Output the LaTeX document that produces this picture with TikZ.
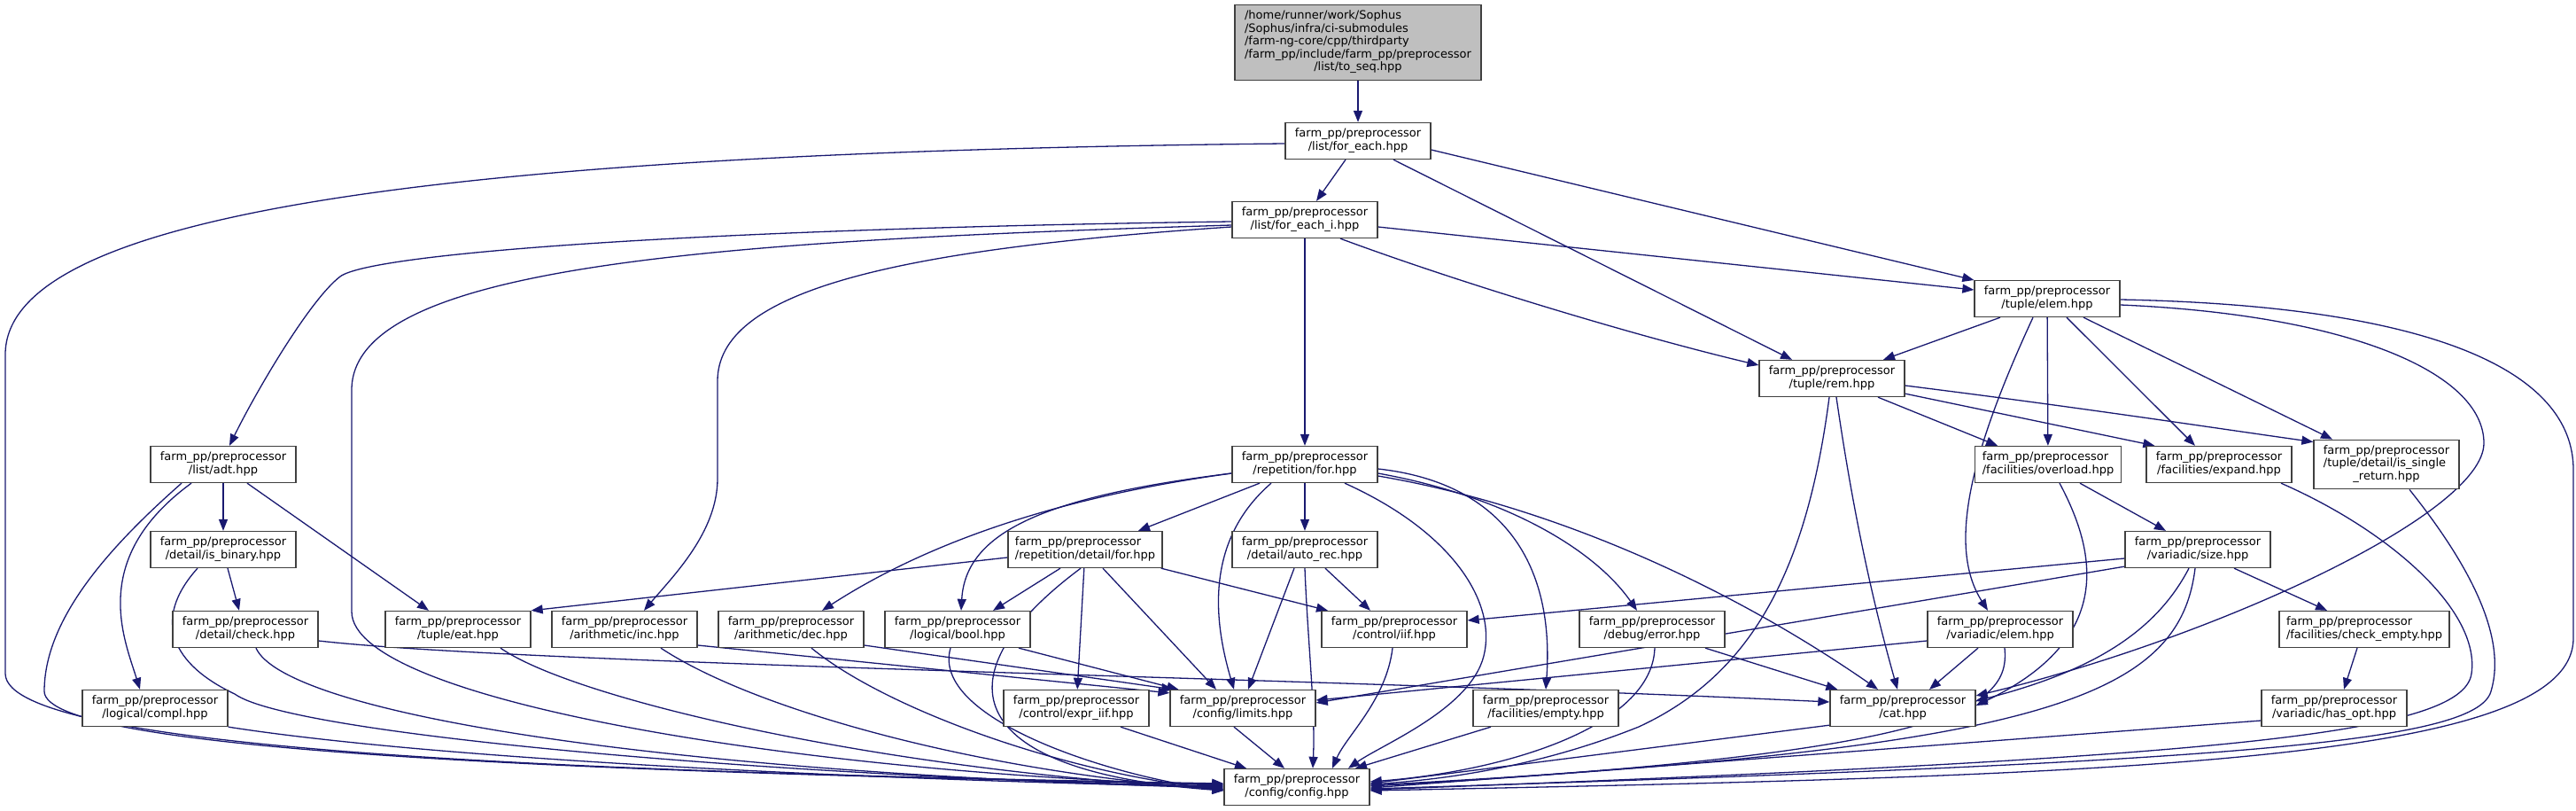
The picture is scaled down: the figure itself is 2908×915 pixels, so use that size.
\documentclass[tikz,border=0pt]{standalone}
\usepackage{fontspec}
\setmainfont{DejaVu Sans}
\usepackage{tikz}
\usetikzlibrary{arrows.meta, positioning, backgrounds}
\usepackage{xcolor}
\definecolor{edgeblue}{HTML}{191970}
\definecolor{boxgray}{HTML}{404040}
\definecolor{rootfill}{HTML}{BFBFBF}
\newcommand{\fpp}[1]{\begin{tabular}{@{}l@{}}farm\_pp/preprocessor\\\multicolumn{1}{@{}c@{}}{#1}\end{tabular}}

\begin{document}
\begin{tikzpicture}[x=1pt, y=-1pt,
  hfile/.style={rectangle, draw=boxgray, line width=1.3pt, fill=white, minimum width=164pt,
    minimum height=41pt, inner xsep=8pt, inner ysep=6pt, font=\fontsize{13}{14.5}\selectfont},
  dep/.style={-{Triangle[length=13pt, width=10pt]}, draw=edgeblue, line width=1.3pt},
]
  \useasboundingbox (0,0) rectangle (2908,915);

  \node[hfile, fill=rootfill, minimum width=278pt] (root) at (1533,48) {\begin{tabular}{@{}l@{}}/home/runner/work/Sophus\\/Sophus/infra/ci-submodules\\/farm-ng-core/cpp/thirdparty\\/farm\_pp/include/farm\_pp/preprocessor\\\multicolumn{1}{@{}c@{}}{/list/to\_seq.hpp}\end{tabular}};
  \node[hfile] (fe) at (1533,159) {\fpp{/list/for\_each.hpp}};
  \node[hfile] (fei) at (1473,248) {\fpp{/list/for\_each\_i.hpp}};
  \node[hfile] (telem) at (2311,337) {\fpp{/tuple/elem.hpp}};
  \node[hfile] (trem) at (2068,427) {\fpp{/tuple/rem.hpp}};
  \node[hfile] (adt) at (252,524) {\fpp{/list/adt.hpp}};
  \node[hfile] (rfor) at (1473,524) {\fpp{/repetition/for.hpp}};
  \node[hfile] (ovl) at (2312,524) {\fpp{/facilities/overload.hpp}};
  \node[hfile] (expd) at (2505,524) {\fpp{/facilities/expand.hpp}};
  \node[hfile] (isr) at (2694,524) {\begin{tabular}{@{}l@{}}farm\_pp/preprocessor\\/tuple/detail/is\_single\\\multicolumn{1}{@{}c@{}}{\_return.hpp}\end{tabular}};
  \node[hfile] (isb) at (252,620) {\fpp{/detail/is\_binary.hpp}};
  \node[hfile] (rdfor) at (1225,620) {\fpp{/repetition/detail/for.hpp}};
  \node[hfile] (arec) at (1473,620) {\fpp{/detail/auto\_rec.hpp}};
  \node[hfile] (vsize) at (2481,620) {\fpp{/variadic/size.hpp}};
  \node[hfile] (chk) at (277,710) {\fpp{/detail/check.hpp}};
  \node[hfile] (eat) at (517,710) {\fpp{/tuple/eat.hpp}};
  \node[hfile] (ainc) at (705,710) {\fpp{/arithmetic/inc.hpp}};
  \node[hfile] (adec) at (893,710) {\fpp{/arithmetic/dec.hpp}};
  \node[hfile] (lbool) at (1081,710) {\fpp{/logical/bool.hpp}};
  \node[hfile] (iif) at (1574,710) {\fpp{/control/iif.hpp}};
  \node[hfile] (err) at (1865,710) {\fpp{/debug/error.hpp}};
  \node[hfile] (velem) at (2258,710) {\fpp{/variadic/elem.hpp}};
  \node[hfile] (cempty) at (2669,710) {\fpp{/facilities/check\_empty.hpp}};
  \node[hfile] (compl) at (175,799) {\fpp{/logical/compl.hpp}};
  \node[hfile] (eiif) at (1215,799) {\fpp{/control/expr\_iif.hpp}};
  \node[hfile] (lim) at (1403,799) {\fpp{/config/limits.hpp}};
  \node[hfile] (fempty) at (1745,799) {\fpp{/facilities/empty.hpp}};
  \node[hfile] (cat) at (2148,799) {\fpp{/cat.hpp}};
  \node[hfile] (hasopt) at (2635,799) {\fpp{/variadic/has\_opt.hpp}};
  \node[hfile] (cfg) at (1464,888) {\fpp{/config/config.hpp}};

  \begin{pgfonlayer}{background}
  % list/to_seq, list/for_each
  \draw[dep] (root) -- (fe);
  \draw[dep] ([xshift=-14pt]fe.south) -- ([xshift=13pt]fei.north);
  \draw[dep] ([xshift=40pt]fe.south) -- ([xshift=-45pt]trem.north);
  \draw[dep] ([yshift=-10pt]fe.east) -- ([yshift=21pt]telem.west);
  \draw[dep] ([yshift=-3pt]fe.west) .. controls (500,172) and (6,240) .. (6,400) -- (6,760) .. controls (6,850) and (700,872) .. ([yshift=4pt]cfg.west);
  % list/for_each_i
  \draw[dep] ([yshift=-2pt]fei.west) .. controls (800,258) and (420,285) .. (384,312) .. controls (350,338) and (290,440) .. ([xshift=7pt]adt.north);
  \draw[dep] ([yshift=-6pt]fei.west) .. controls (800,272) and (397,300) .. (397,440) -- (397,690) .. controls (397,790) and (900,872) .. ([yshift=2pt]cfg.west);
  \draw[dep] ([yshift=-8pt]fei.west) .. controls (1000,282) and (810,330) .. (810,430) -- (810,540) .. controls (810,600) and (760,650) .. ([xshift=22pt]ainc.north);
  \draw[dep] (fei) -- (rfor);
  \draw[dep] ([yshift=-8pt]fei.east) -- ([yshift=10pt]telem.west);
  \draw[dep] ([xshift=40pt]fei.south) .. controls (1650,320) and (1850,380) .. ([yshift=15pt]trem.west);
  % tuple/elem
  \draw[dep] ([xshift=-53pt]telem.south) -- ([xshift=58pt]trem.north);
  \draw[dep] (telem) -- (ovl);
  \draw[dep] ([xshift=22pt]telem.south) -- ([xshift=-27pt]expd.north);
  \draw[dep] ([xshift=41pt]telem.south) -- ([xshift=-61pt]isr.north);
  \draw[dep] ([xshift=-16pt]telem.south) .. controls (2220,520) and (2200,620) .. ([xshift=-14pt]velem.north);
  \draw[dep] ([yshift=-7pt]telem.east) .. controls (2650,355) and (2804,420) .. (2804,500) .. controls (2804,580) and (2500,720) .. ([yshift=14pt]cat.east);
  \draw[dep] ([yshift=-1pt]telem.east) .. controls (2750,345) and (2905,420) .. (2905,530) -- (2905,720) .. controls (2905,860) and (2400,875) .. ([yshift=-4pt]cfg.east);
  % tuple/rem
  \draw[dep] ([xshift=52pt]trem.south) -- ([xshift=-57pt]ovl.north);
  \draw[dep] ([yshift=4pt]trem.south east) -- ([xshift=10pt]expd.north west);
  \draw[dep] ([yshift=-8pt]trem.east) .. controls (2350,460) and (2480,480) .. ([yshift=-3pt]isr.north west);
  \draw[dep] ([xshift=5pt]trem.south) .. controls (2095,600) and (2120,700) .. ([xshift=-6pt]cat.north);
  \draw[dep] ([xshift=-3pt]trem.south) .. controls (2040,640) and (1980,760) .. (1850,820) .. controls (1750,860) and (1650,878) .. ([yshift=3pt]cfg.east);
  % list/adt, detail
  \draw[dep] (adt) -- (isb);
  \draw[dep] ([xshift=27pt]adt.south) -- ([xshift=-33pt]eat.north);
  \draw[dep] ([xshift=-36pt]adt.south) .. controls (100,630) and (140,720) .. ([xshift=-17pt]compl.north);
  \draw[dep] ([xshift=-47pt]adt.south) .. controls (120,620) and (50,700) .. (50,780) .. controls (50,850) and (700,872) .. ([yshift=3pt]cfg.west);
  \draw[dep] ([xshift=5pt]isb.south) -- ([xshift=-7pt]chk.north);
  \draw[dep] ([xshift=-29pt]isb.south) .. controls (170,700) and (195,750) .. (265,783) .. controls (330,830) and (900,878) .. ([yshift=1pt]cfg.west);
  \draw[dep] ([yshift=-13pt]chk.east) .. controls (600,750) and (1500,765) .. ([yshift=7pt]cat.west);
  \draw[dep] ([xshift=12pt]chk.south) .. controls (320,800) and (700,870) .. ([yshift=-1pt]cfg.west);
  \draw[dep] ([xshift=48pt]eat.south) .. controls (650,790) and (1000,870) .. ([yshift=-2pt]cfg.west);
  \draw[dep] (compl.south east) .. controls (500,858) and (1000,880) .. (cfg.west);
  % arithmetic, logical
  \draw[dep] ([yshift=-18pt]ainc.east) -- ([yshift=-4pt]lim.north west);
  \draw[dep] ([xshift=41pt]ainc.south) .. controls (850,800) and (1100,870) .. ([yshift=-3pt]cfg.west);
  \draw[dep] ([yshift=-18pt]adec.east) -- ([xshift=4pt]lim.north west);
  \draw[dep] ([xshift=23pt]adec.south) .. controls (1000,800) and (1200,872) .. ([yshift=-3pt]cfg.west);
  \draw[dep] ([xshift=69pt]lbool.south) -- ([xshift=10pt]lim.north west);
  \draw[dep] ([xshift=-8pt]lbool.south) .. controls (1050,810) and (1250,875) .. ([yshift=-4pt]cfg.west);
  % repetition/for
  \draw[dep] ([xshift=-51pt]rfor.south) -- ([xshift=60pt]rdfor.north);
  \draw[dep] (rfor) -- (arec);
  \draw[dep] ([yshift=-10pt]rfor.west) .. controls (1200,560) and (1050,610) .. ([xshift=35pt]adec.north);
  \draw[dep] ([yshift=-10pt]rfor.west) .. controls (1180,560) and (1090,600) .. ([xshift=4pt]lbool.north);
  \draw[dep] ([xshift=-38pt]rfor.south) .. controls (1360,610) and (1370,700) .. ([xshift=-10pt]lim.north);
  \draw[dep] ([xshift=45pt]rfor.south) .. controls (1640,600) and (1690,680) .. (1675,740) .. controls (1660,800) and (1560,840) .. ([xshift=58pt]cfg.north);
  \draw[dep] ([yshift=-5pt]rfor.east) .. controls (1700,545) and (1755,640) .. (fempty.north);
  \draw[dep] ([yshift=-10pt]rfor.east) .. controls (1700,560) and (1800,620) .. ([xshift=-17pt]err.north);
  \draw[dep] ([yshift=-13pt]rfor.east) .. controls (1750,570) and (1950,660) .. ([xshift=-28pt]cat.north);
  % repetition/detail/for
  \draw[dep] ([yshift=-9pt]rdfor.west) -- (eat.north east);
  \draw[dep] ([xshift=-28pt]rdfor.south) -- ([xshift=40pt]lbool.north);
  \draw[dep] ([xshift=-2pt]rdfor.south east) -- ([xshift=-75pt]iif.north);
  \draw[dep] (rdfor) -- (eiif);
  \draw[dep] ([xshift=20pt]rdfor.south) -- ([xshift=-30pt]lim.north);
  \draw[dep] ([xshift=-5pt]rdfor.south) .. controls (1060,760) and (1080,870) .. ([yshift=-4pt]cfg.west);
  % detail/auto_rec, control
  \draw[dep] ([xshift=23pt]arec.south) -- ([xshift=-27pt]iif.north);
  \draw[dep] ([xshift=-12pt]arec.south) -- ([xshift=6pt]lim.north);
  \draw[dep] (arec.south) .. controls (1476,720) and (1485,800) .. ([xshift=18pt]cfg.north);
  \draw[dep] ([xshift=-2pt]iif.south) .. controls (1565,790) and (1520,830) .. ([xshift=40pt]cfg.north);
  % debug, facilities/empty, config
  \draw[dep] ([xshift=60pt]err.south) -- ([xshift=9pt]cat.north west);
  \draw[dep] ([xshift=3pt]err.south) .. controls (1865,820) and (1700,870) .. ([yshift=6pt]cfg.east);
  \draw[dep] ([xshift=-62pt]fempty.south) -- ([xshift=66pt]cfg.north);
  \draw[dep] ([xshift=50pt]eiif.south) -- ([xshift=-57pt]cfg.north);
  \draw[dep] ([xshift=-10pt]lim.south) -- ([xshift=-14pt]cfg.north);
  \draw[dep] ([yshift=2pt]cat.south west) -- ([yshift=4pt]cfg.east);
  % facilities, variadic
  \draw[dep] ([xshift=36pt]ovl.south) -- ([xshift=-36pt]vsize.north);
  \draw[dep] ([xshift=13pt]ovl.south) .. controls (2365,620) and (2390,720) .. ([yshift=3pt]cat.east);
  \draw[dep] ([xshift=70pt]expd.south) .. controls (2700,600) and (2800,690) .. (2790,760) .. controls (2780,830) and (2500,855) .. ([yshift=-3pt]cfg.east);
  \draw[dep] ([xshift=26pt]isr.south) .. controls (2790,640) and (2830,720) .. (2812,780) .. controls (2795,840) and (2500,860) .. ([yshift=-2pt]cfg.east);
  \draw[dep] ([yshift=-10pt]vsize.west) -- ([yshift=10pt]iif.east);
  \draw[dep] ([yshift=2pt]vsize.south west) -- ([yshift=6pt]lim.east);
  \draw[dep] ([xshift=-10pt]vsize.south) .. controls (2430,720) and (2350,760) .. ([yshift=8pt]cat.east);
  \draw[dep] ([xshift=41pt]vsize.south) -- ([xshift=-42pt]cempty.north);
  \draw[dep] ([xshift=-3pt]vsize.south) .. controls (2460,790) and (2300,845) .. ([yshift=2pt]cfg.east);
  \draw[dep] ([xshift=-25pt]velem.south) -- ([xshift=30pt]cat.north);
  \draw[dep] ([yshift=-13pt]velem.west) -- ([yshift=9pt]lim.east);
  \draw[dep] ([xshift=5pt]velem.south) .. controls (2270,800) and (2200,850) .. ([yshift=1pt]cfg.east);
  \draw[dep] ([xshift=-8pt]cempty.south) -- ([xshift=11pt]hasopt.north);
  \draw[dep] ([yshift=-14pt]hasopt.west) -- ([yshift=-1pt]cfg.east);
  \end{pgfonlayer}
\end{tikzpicture}
\end{document}
